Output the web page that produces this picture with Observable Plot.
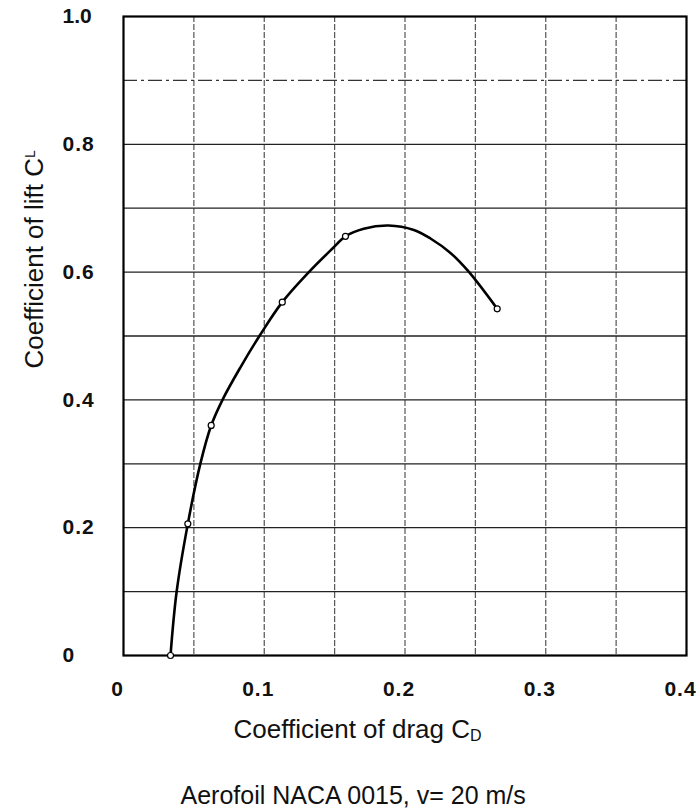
<!DOCTYPE html>
<html>
<head>
<meta charset="utf-8">
<script src="https://cdn.jsdelivr.net/npm/d3@7"></script>
<script src="https://cdn.jsdelivr.net/npm/@observablehq/plot@0.6"></script>
<style>
  html, body { margin: 0; padding: 0; background: #fff; }
  #chart svg { display: block; }
</style>
</head>
<body>
<div id="chart"></div>
<script>
// Measured points (drag coefficient, lift coefficient) – the small circles
const dragCoef = [0.0334, 0.0457, 0.0623, 0.1128, 0.1577, 0.2655];
const liftCoef = [0.0, 0.206, 0.36, 0.553, 0.656, 0.5426];

// Faired curve, positions
const curveCd = [0.0334, 0.0377, 0.0457, 0.0547, 0.0623, 0.0707, 0.0831, 0.0968, 0.1128,
                 0.1317, 0.1483, 0.1577, 0.1707, 0.1883, 0.2063, 0.2181, 0.2323, 0.2451, 0.2655];
const curveCl = [0.0, 0.099, 0.206, 0.301, 0.36, 0.4017, 0.451, 0.5008, 0.553,
                 0.600, 0.6365, 0.656, 0.668, 0.673, 0.666, 0.6526, 0.630, 0.601, 0.5426];

// Grid and tick definitions
const xGridValues = [0.05, 0.1, 0.15, 0.2, 0.25, 0.3, 0.35];
const yGridSolid = [0.1, 0.2, 0.3, 0.4, 0.5, 0.6, 0.7, 0.8];
const yGridDashed = [0.9];
const xTickValues = [0, 0.1, 0.2, 0.3, 0.4];
const xTickLabels = ["0", "0.1", "0.2", "0.3", "0.4"];
const yTickValues = [0, 0.2, 0.4, 0.6, 0.8, 1.0];
const yTickLabels = ["0", "0.2", "0.4", "0.6", "0.8", "1.0"];

const xTitle = "Coefficient of drag C";
const yTitle = "Coefficient of lift C";
const caption = "Aerofoil NACA 0015, v= 20 m/s";

const pts = dragCoef.map((d, i) => ({cd: d, cl: liftCoef[i]}));
const curvePts = curveCd.map((d, i) => ({cd: d, cl: curveCl[i]}));
const xTicks = xTickValues.map((v, i) => ({v, label: xTickLabels[i]}));
const yTicks = yTickValues.map((v, i) => ({v, label: yTickLabels[i]}));

const font = "'Liberation Sans', Arial, Helvetica, sans-serif";

const chart = Plot.plot({
  width: 696,
  height: 809,
  marginLeft: 123,
  marginRight: 10,
  marginTop: 16,
  marginBottom: 154,
  style: {fontFamily: font, background: "#fff", overflow: "visible"},
  x: {domain: [0, 0.4], axis: null},
  y: {domain: [0, 1], axis: null},
  marks: [
    Plot.ruleX(xGridValues, {stroke: "#555", strokeWidth: 1.2, strokeDasharray: "6,2"}),
    Plot.ruleY(yGridSolid, {stroke: "#222", strokeWidth: 1.3}),
    Plot.ruleY(yGridDashed, {stroke: "#333", strokeWidth: 1.3, strokeDasharray: "14,4,3,4"}),
    Plot.frame({stroke: "#000", strokeWidth: 2.2}),
    Plot.line(curvePts, {x: "cd", y: "cl", curve: "catmull-rom", stroke: "#000", strokeWidth: 2.6}),
    Plot.dot(pts, {x: "cd", y: "cl", r: 3, fill: "#fff", stroke: "#000", strokeWidth: 1.2}),
    // x tick labels
    Plot.text(xTicks, {x: "v", text: "label", frameAnchor: "bottom", dy: 34, dx: -6,
      lineAnchor: "middle", fontSize: 21, fontWeight: "bold", fill: "#111"}),
    // y tick labels
    Plot.text(yTicks, {y: "v", text: "label", frameAnchor: "left", dx: -61, textAnchor: "start",
      lineAnchor: "middle", fontSize: 21, fontWeight: "bold", fill: "#111"}),
    // x axis title
    Plot.text([xTitle], {text: d => d, frameAnchor: "bottom-left", dx: 110, dy: 82,
      textAnchor: "start", lineAnchor: "bottom", fontSize: 26, fill: "#111"}),
    // y axis title
    Plot.text([yTitle], {text: d => d, frameAnchor: "top-left", dx: -81, dy: 352, rotate: -90,
      textAnchor: "start", lineAnchor: "bottom", fontSize: 26, fill: "#111"}),
    // caption
    Plot.text([caption], {text: d => d, frameAnchor: "bottom-left", dx: 57, dy: 148,
      textAnchor: "start", lineAnchor: "bottom", fontSize: 25, fill: "#111"})
  ]
});

// Add subscript / superscript letters to the axis titles
d3.select(chart).selectAll("text").each(function() {
  const t = this.textContent;
  if (t === xTitle) {
    d3.select(this).append("tspan").attr("font-size", 16).attr("dy", 3).text("D");
  } else if (t === yTitle) {
    d3.select(this).append("tspan").attr("font-size", 14).attr("dy", -8).text("L");
  }
});
d3.select(chart).selectAll("text").filter(function() { return this.textContent.startsWith("0") && this.textContent.length <= 3; })
  .style("letter-spacing", "1px");

document.getElementById("chart").appendChild(chart);
</script>
</body>
</html>
